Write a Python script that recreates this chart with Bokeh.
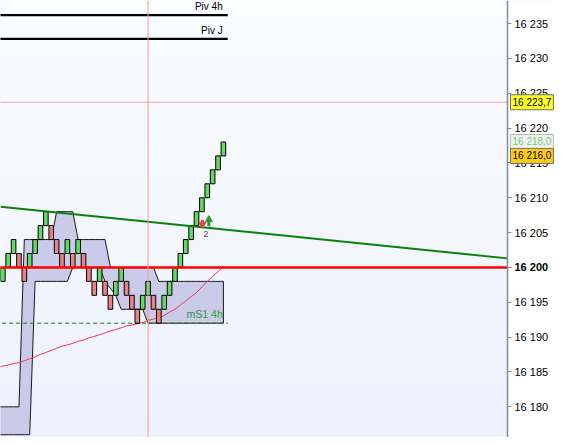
import numpy as np
from bokeh.plotting import figure
from bokeh.models import Range1d, FixedTicker, Span, Label, BoxAnnotation
from bokeh.core.properties import value
from bokeh.embed import file_html
from bokeh.resources import INLINE

# ---------------- data ----------------
brick_open = [16198, 16200, 16202, 16202, 16200, 16200, 16202, 16204, 16206, 16206,
              16204, 16202, 16202, 16202, 16202, 16202, 16200, 16198, 16198, 16198,
              16196, 16196, 16198, 16198, 16196, 16194, 16194, 16196, 16196, 16194,
              16194, 16196, 16198, 16200, 16202, 16204, 16206, 16208, 16210, 16212,
              16214, 16216]
brick_close = [16200, 16202, 16204, 16200, 16198, 16202, 16204, 16206, 16208, 16204,
               16202, 16200, 16204, 16200, 16204, 16200, 16198, 16196, 16200, 16196,
               16194, 16198, 16200, 16196, 16194, 16192, 16196, 16198, 16194, 16192,
               16196, 16198, 16200, 16202, 16204, 16206, 16208, 16210, 16212, 16214,
               16216, 16218]

band_x = list(range(-1, 42))
band_upper = [16180] * 5 + [16204] * 6 + [16208] * 4 + [16204] * 6 + [16200] * 9 + [16198] * 13
band_lower = [16176] * 7 + [16198] * 7 + [16200] * 6 + [16198, 16197, 16196] + [16194] * 5 + [16192] * 15
ma_values = [16185.7, 16185.85, 16186.0, 16186.2, 16186.35, 16186.6, 16186.9, 16187.2, 16187.5, 16187.8,
             16188.1, 16188.4, 16188.7, 16188.9, 16189.1, 16189.4, 16189.6, 16189.9, 16190.1, 16190.35,
             16190.6, 16190.9, 16191.1, 16191.35, 16191.6, 16191.75, 16191.9, 16192.1, 16192.4, 16192.6,
             16192.75, 16193.1, 16193.6, 16194.0, 16194.6, 16195.2, 16195.8, 16196.4, 16197.2, 16198.0,
             16198.7, 16199.4, 16200.1]

tick_values = [16180, 16185, 16190, 16195, 16200, 16205, 16210, 16215, 16220, 16225, 16230, 16235]
tick_labels = ["16 180", "16 185", "16 190", "16 195", "16 200", "16 205",
               "16 210", "16 215", "16 220", "16 225", "16 230", "16 235"]
bold_tick = 16200

support_level = 16200
pivot_levels = [16236.2, 16232.8]
pivot_names = ["Piv 4h", "Piv J"]
ms1_level = 16192.0
ms1_name = "mS1 4h"
level_end = 41.8

trend_x = [-0.43, 93.8]
trend_price = [16208.7, 16201.3]

cursor_index = 27
cursor_price = 16223.7
cursor_text = "16 223,7"
last_price = 16218.0
last_text = "16 218,0"
bid_price = 16216.0
bid_text = "16 216,0"

signal_x = [37.1, 38.3]
signal_base = [16205.9, 16205.9]
signal_dir = ["down", "up"]
signal_count_x = 37.7
signal_count_price = 16204.8
signal_count = "2"

# ---------------- figure ----------------
W, H = 554, 437
AXIS_PX = 507                      # where the price scale sits inside the frame
X_START, X_AXIS = -0.43, 93.8
X_FULL = X_START + (X_AXIS - X_START) * W / AXIS_PX
Y_START, Y_END = 16175.6, 16238.3
FONT = "Liberation Sans"

p = figure(width=W, height=H, output_backend="svg", toolbar_location=None,
           x_range=Range1d(X_START, X_FULL), y_range=Range1d(Y_START, Y_END),
           x_axis_location=None, y_axis_location="right",
           min_border_left=0, min_border_top=0, min_border_bottom=0, min_border_right=0)
p.grid.visible = False
p.outline_line_color = None
p.border_fill_color = "#ffffff"
p.background_fill_color = "#f4f6fd"

# gradient background (bottom light blue -> top almost white)
top_c = np.array([251, 252, 255])
bot_c = np.array([236, 241, 252])
n_bands = 40
for k in range(n_bands):
    t = (k + 0.5) / n_bands
    c = bot_c + (top_c - bot_c) * t
    col = "#%02x%02x%02x" % tuple(int(round(v)) for v in c)
    lo = Y_START + (Y_END - Y_START) * k / n_bands
    p.add_layout(BoxAnnotation(bottom=lo, top=Y_END + 10, right=X_AXIS, fill_color=col, fill_alpha=1.0,
                               line_color=None, level="underlay"))
p.add_layout(BoxAnnotation(left=X_AXIS, fill_color="#ffffff", fill_alpha=1.0, line_color=None,
                           level="underlay"))

# y axis (price scale) placed at the right end of the chart area
ax = p.yaxis[0]
ax.fixed_location = X_AXIS
ax.ticker = FixedTicker(ticks=tick_values)
ax.major_label_overrides = {v: ("" if v == bold_tick else lab) for v, lab in zip(tick_values, tick_labels)}
ax.minor_tick_line_color = None
ax.major_tick_in = 0
ax.major_tick_out = 4
ax.major_label_standoff = 3
ax.axis_line_color = "#7f8c99"
ax.axis_line_width = 1.5
ax.major_tick_line_color = "#7f8c99"
ax.major_label_text_font = FONT
ax.major_label_text_font_size = "11px"
ax.major_label_text_color = "#000000"

# envelope band
p.varea(x=band_x, y1=band_lower, y2=band_upper, fill_color="#c9cbe9", fill_alpha=1.0)
p.line(band_x, band_upper, line_color="#1a1a1a", line_width=1)
p.line(band_x, band_lower, line_color="#1a1a1a", line_width=1)
p.segment(x0=[band_x[-1]], y0=[band_lower[-1]], x1=[band_x[-1]], y1=[band_upper[-1]],
          line_color="#1a1a1a", line_width=1)

# moving average
p.line(band_x, ma_values, line_color="#f2385a", line_width=1)

# levels
p.line([X_START - 1, level_end], [ms1_level, ms1_level], line_color="#1a7a1a", line_width=1, line_dash="4 3")
for lv in pivot_levels:
    p.line([X_START - 1, level_end], [lv, lv], line_color="#000000", line_width=2.2)

p.text(x=[level_end] * 2, y=pivot_levels, text=pivot_names, text_align="right", text_baseline="bottom",
       x_offset=-5, y_offset=-3, text_font=value(FONT), text_font_size="10px", text_color="#000000")
p.text(x=[level_end], y=[ms1_level], text=[ms1_name], text_align="right", text_baseline="bottom",
       x_offset=-5, y_offset=-3, text_font=value(FONT), text_font_size="10.5px", text_color="#2e9a3a")

# bricks
idx = list(range(len(brick_close)))
lows = [min(o, c) for o, c in zip(brick_open, brick_close)]
highs = [max(o, c) for o, c in zip(brick_open, brick_close)]
colors = ["#62d962" if c > o else "#ea8282" for o, c in zip(brick_open, brick_close)]
p.vbar(x=idx, width=0.86, bottom=lows, top=highs, fill_color=colors, line_color="#000000", line_width=1)

# support and trend lines
p.line([X_START - 1, X_AXIS], [support_level, support_level], line_color="#ff0000", line_width=2.6)
p.line(trend_x, trend_price, line_color="#0a820a", line_width=2)

# cursor
p.add_layout(Span(location=cursor_index, dimension="height", line_color="#f59a9a", line_width=1))
p.line([X_START - 1, X_AXIS], [cursor_price, cursor_price], line_color="#f0a8a8", line_width=1)

# signals
for sx, sb, sd in zip(signal_x, signal_base, signal_dir):
    if sd == "down":
        p.segment(x0=[sx], y0=[sb + 0.95], x1=[sx], y1=[sb + 0.4], line_color="#e04a40", line_width=3)
        p.scatter(x=[sx], y=[sb + 0.28], marker="inverted_triangle", size=7,
                  fill_color="#e04a40", line_color="#e04a40")
    else:
        p.segment(x0=[sx], y0=[sb], x1=[sx], y1=[sb + 0.75], line_color="#2a9a2a", line_width=3)
        p.scatter(x=[sx], y=[sb + 0.95], marker="triangle", size=7,
                  fill_color="#2a9a2a", line_color="#2a9a2a")
p.text(x=[signal_count_x], y=[signal_count_price], text=[signal_count], text_align="center",
       text_baseline="middle", text_font=value(FONT), text_font_size="9px", text_color="#3c3c64")

# price labels on the scale
p.add_layout(Label(x=X_AXIS, y=bold_tick, x_offset=7, text=tick_labels[tick_values.index(bold_tick)],
                   text_font=FONT, text_font_size="11px", text_font_style="bold",
                   text_baseline="middle", text_color="#000000"))
for pr, tx, tc, bg, bc in [(cursor_price, cursor_text, "#000000", "#ffff20", "#707070"),
                           (last_price, last_text, "#6cd06c", "#f2f2f2", "#b8b8b8"),
                           (bid_price, bid_text, "#000000", "#ffcc10", "#707070")]:
    p.add_layout(Label(x=X_AXIS, y=pr, x_offset=3, text=tx, text_font=FONT,
                       text_font_size="10px", text_baseline="middle", text_color=tc,
                       background_fill_color=bg, border_line_color=bc, padding=2))

open("out.html", "w").write(file_html(p, INLINE))
